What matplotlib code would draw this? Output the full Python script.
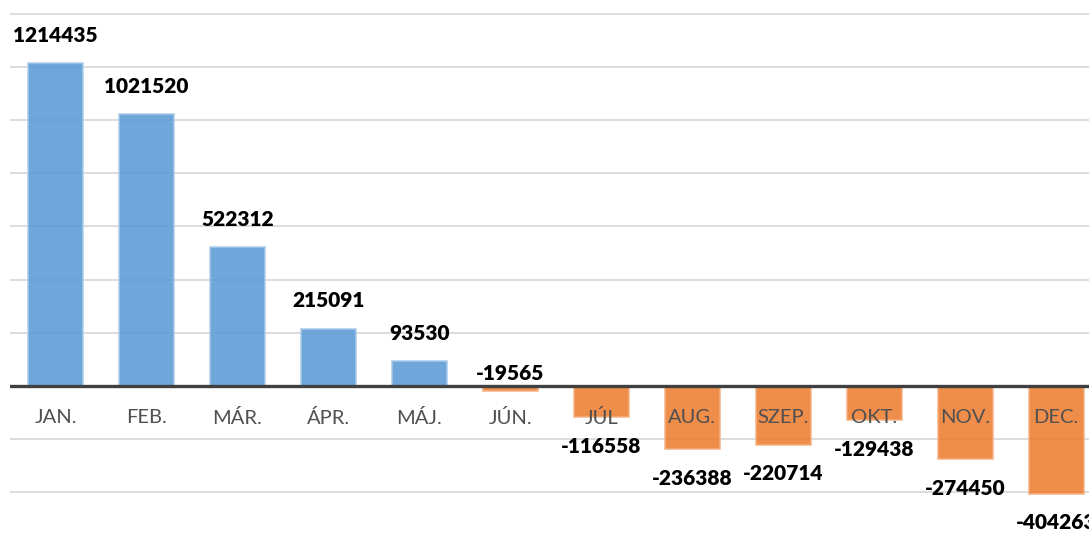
import numpy as np
import matplotlib.pyplot as plt

months = ["JAN.", "FEB.", "MÁR.", "ÁPR.", "MÁJ.", "JÚN.", "JÚL", "AUG.", "SZEP.", "OKT.", "NOV.", "DEC."]
values = [1214435, 1021520, 522312, 215091, 93530, -19565, -116558, -236388, -220714, -129438, -274450, -404263]

blue = "#5B9BD5"
orange = "#ED7D31"

fig = plt.figure(figsize=(10.89, 5.41), dpi=100)
ax = fig.add_axes([10 / 1089, 0, 1 - 10 / 1089, 1])

x = np.arange(len(months))
vals = np.array(values)
colors = [blue if v > 0 else orange for v in vals]
edges = ["#A9CBEA" if v > 0 else "#F4B183" for v in vals]
ax.bar(x, vals, width=0.6, color=colors, alpha=0.88, edgecolor=edges, linewidth=1.2, zorder=3)

# grid
for g in np.arange(-400000, 1400001, 200000):
    if g == 0:
        continue
    ax.axhline(g, color="#D9D9D9", lw=1.3, zorder=0)
ax.axhline(0, color="#404040", lw=2.4, zorder=4)

# category labels just below the zero line
for xi, m in zip(x, months):
    ax.annotate(m, (xi, 0), xytext=(0, -23), textcoords="offset points",
                ha="center", va="center", fontsize=14.5, color="#505050",
                family="Lato", zorder=5)

# data labels
for xi, v in zip(x, vals):
    if v > 0 or abs(v) < 50000:
        ax.annotate(str(v), (xi, max(v, 0)), xytext=(0, 9 if v < 0 else 20),
                    textcoords="offset points", ha="center", va="center",
                    fontsize=15, fontweight="heavy", family="Lato", color="black", zorder=5)
    else:
        ax.annotate(str(v), (xi, v), xytext=(0, -21), textcoords="offset points",
                    ha="center", va="center", fontsize=15, fontweight="heavy",
                    family="Lato", color="black", zorder=5, annotation_clip=False)

ax.set_xlim(-0.5, 11.36)
ax.set_ylim(-582700, 1451000)
for s in ax.spines.values():
    s.set_visible(False)
ax.set_xticks([])
ax.set_yticks([])

fig.savefig("out.png", dpi=100)
